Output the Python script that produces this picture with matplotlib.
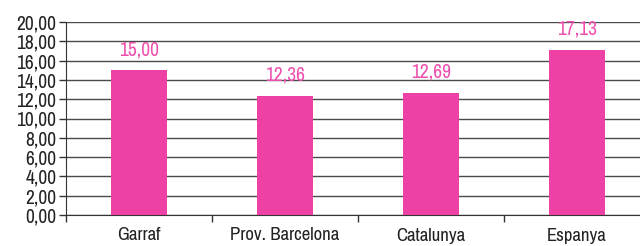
import matplotlib
matplotlib.use("Agg")
import matplotlib.pyplot as plt

categories = ["Garraf", "Prov. Barcelona", "Catalunya", "Espanya"]
values = [15.00, 12.36, 12.69, 17.13]
value_labels = ["15,00", "12,36", "12,69", "17,13"]
yticks = [0, 2, 4, 6, 8, 10, 12, 14, 16, 18, 20]

plt.rcParams["font.family"] = ["Archivo Narrow", "DejaVu Sans"]

fig = plt.figure(figsize=(6.4, 2.46), dpi=100)
ax = fig.add_axes([66/640, 1 - 215/246, 584/640, (215 - 22)/246])

x = list(range(len(categories)))
ax.bar(x, values, width=0.377, color="#ee41a6", zorder=3)
for xi, v, lab in zip(x, values, value_labels):
    ax.annotate(lab, (xi, v), xytext=(0, 8), textcoords="offset points",
                ha="center", va="bottom", color="#ee4fae", fontsize=14)

ax.set_xlim(-0.5, 3.5)
ax.set_ylim(0, 20)
ax.set_yticks(yticks)
ax.set_yticklabels([f"{t:.2f}".replace(".", ",") for t in yticks], fontsize=14, color="#222222")
ax.yaxis.grid(True, color="#4a4a4a", linewidth=1.0, zorder=0)
ax.set_xticks(x)
ax.set_xticklabels(categories, fontsize=13.5, color="#222222")
ax.tick_params(axis="x", which="major", length=0, pad=9)
ax.set_xticks([-0.5, 0.5, 1.5, 2.5], minor=True)
ax.tick_params(axis="x", which="minor", length=5, width=1, color="#333333")
ax.tick_params(axis="y", length=5, width=1, color="#333333", pad=2)
for s in ["top", "right"]:
    ax.spines[s].set_visible(False)
ax.spines["left"].set_color("#333333")
ax.spines["bottom"].set_color("#333333")
ax.spines["left"].set_bounds(0, 20)

fig.savefig("out.png", dpi=100)
